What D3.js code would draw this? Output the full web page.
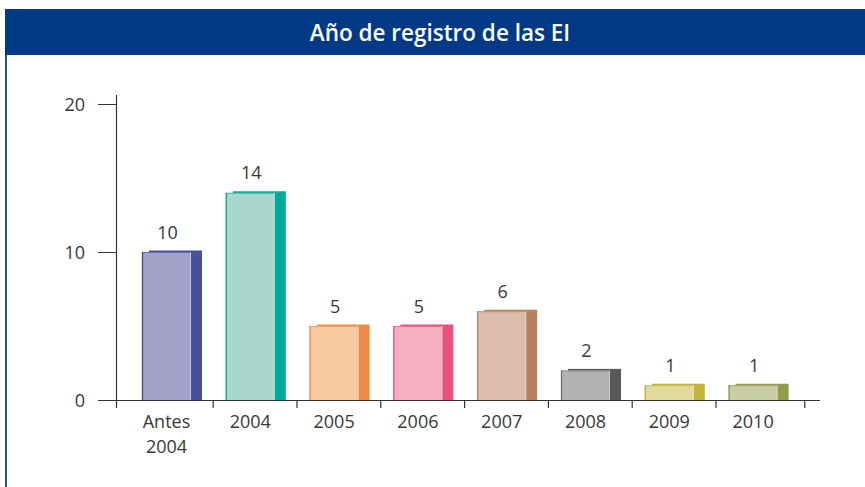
<!DOCTYPE html>
<html><head><meta charset="utf-8">
<script src="https://cdn.jsdelivr.net/npm/d3@7"></script>
<style>html,body{margin:0;padding:0;background:#fff;}svg{display:block;}</style>
</head><body>
<script>
const title = "Año de registro de las EI";
const categories = ["Antes 2004","2004","2005","2006","2007","2008","2009","2010"];
const values = [10,14,5,5,6,2,1,1];
const frontColors = ["#a3a3ca","#a9d7cd","#f9c9a2","#f4b0c0","#dcbdac","#b1b2b4","#e2d99d","#c8cda4"];
const sideColors  = ["#46519a","#00a998","#f08b48","#e8527c","#b8805f","#58595b","#c2b43a","#949b4c"];
const edgeColors  = ["#3d4896","#00a594","#ee8a4a","#e54f79","#b67d5f","#707173","#c0b33c","#8f9648"];
const yTicks = [0,10,20];

const W = 865, H = 487;
const svg = d3.select("body").append("svg").attr("width", W).attr("height", H);

// header band
svg.append("rect").attr("x",5).attr("y",9).attr("width",W-5).attr("height",46).attr("fill","#003a87");
svg.append("line").attr("x1",6).attr("x2",6).attr("y1",55).attr("y2",H).attr("stroke","#2a4f95").attr("stroke-width",2);
svg.append("text").attr("x",440).attr("y",41).attr("text-anchor","middle")
  .attr("fill","#fff").attr("font-family","'Open Sans', sans-serif").attr("font-weight",600)
  .attr("font-size",22.5).text(title);

const y = d3.scaleLinear().domain([0,20]).range([400,104]);
const x = d3.scaleBand().domain(categories).range([129.4, 129.4 + 8*83.8]).paddingInner(0).paddingOuter(0);
const axisX = 116.5;
const font = "'Open Sans', sans-serif";
const txt = "#383838";
const fs = 18;

// y axis
const gy = svg.append("g");
gy.append("line").attr("x1",axisX).attr("x2",axisX).attr("y1",95).attr("y2",408).attr("stroke","#333").attr("stroke-width",1.2);
yTicks.forEach(t => {
  gy.append("line").attr("x1",98).attr("x2",axisX).attr("y1",y(t)+0.5).attr("y2",y(t)+0.5).attr("stroke","#333").attr("stroke-width",1);
  gy.append("text").attr("x",85).attr("y",y(t)+6.5).attr("text-anchor","end").attr("font-family",font)
    .attr("font-size",fs).attr("fill",txt).text(t);
});

// x axis
const gx = svg.append("g");
gx.append("line").attr("x1",98).attr("x2",820).attr("y1",y(0)+0.5).attr("y2",y(0)+0.5).attr("stroke","#333").attr("stroke-width",1);
const tickXs = categories.slice(1).map(c => x(c));
tickXs.push(x.range()[1] + 5);
tickXs.forEach(tx => {
  gx.append("line").attr("x1",tx).attr("x2",tx).attr("y1",y(0)).attr("y2",408).attr("stroke","#333").attr("stroke-width",1.2);
});

const barOff = 12.6, frontW = 49, sideW = 11;
const bars = svg.append("g").selectAll("g").data(categories).join("g");
bars.each(function(c, i) {
  const g = d3.select(this);
  const bx = x(c) + barOff;
  const top = y(values[i]);
  g.append("rect").attr("x", bx + 7).attr("y", top - 1.5).attr("width", frontW + sideW - 7).attr("height", y(0) - top + 1.5)
    .attr("fill", sideColors[i]);
  g.append("rect").attr("x", bx).attr("y", top).attr("width", frontW).attr("height", y(0) - top)
    .attr("fill", frontColors[i]);
  g.append("line").attr("x1", bx+0.5).attr("x2", bx+0.5).attr("y1", top).attr("y2", y(0)).attr("stroke", edgeColors[i]).attr("stroke-width",1.3);
  g.append("line").attr("x1", bx).attr("x2", bx+frontW).attr("y1", top+0.5).attr("y2", top+0.5).attr("stroke", edgeColors[i]).attr("stroke-opacity",0.6).attr("stroke-width",1);
  g.append("line").attr("x1", bx+frontW-0.5).attr("x2", bx+frontW-0.5).attr("y1", top).attr("y2", y(0)).attr("stroke", "#fff").attr("stroke-opacity",0.35).attr("stroke-width",1);
  g.append("text").attr("x", bx + frontW/2 + 1).attr("y", top - 13.5).attr("text-anchor","middle")
    .attr("font-family", font).attr("font-size",fs).attr("fill", txt).text(values[i]);
  const parts = c.split(" ");
  parts.forEach((p, k) => {
    g.append("text").attr("x", bx + frontW/2).attr("y", 428 + k*25).attr("text-anchor","middle")
      .attr("font-family", font).attr("font-size",fs).attr("fill", txt).text(p);
  });
});
</script>
</body></html>
